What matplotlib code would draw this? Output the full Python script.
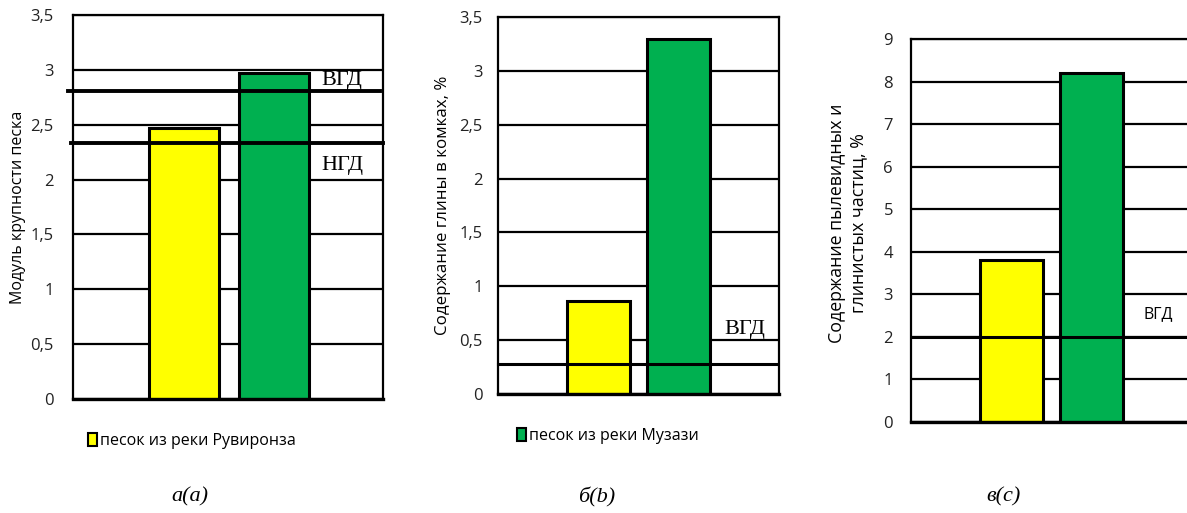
import matplotlib
matplotlib.use("Agg")
import matplotlib.pyplot as plt
from matplotlib.patches import Patch
from matplotlib.ticker import FuncFormatter

plt.rcParams['font.family'] = ['Open Sans', 'DejaVu Sans']

# ---- data ----
series_names = ["песок из реки Рувиронза", "песок из реки Музази"]
colors = ["#FFFF00", "#00B050"]

a_values = [2.47, 2.97]
a_vgd = 2.81
a_ngd = 2.33

b_values = [0.86, 3.30]
b_vgd = 0.28

c_values = [3.8, 8.2]
c_vgd = 2.0

a_ticks = [0, 0.5, 1, 1.5, 2, 2.5, 3, 3.5]
b_ticks = [0, 0.5, 1, 1.5, 2, 2.5, 3, 3.5]
c_ticks = [0, 1, 2, 3, 4, 5, 6, 7, 8, 9]

a_ylabel = "Модуль крупности песка"
b_ylabel = "Содержание глины в комках, %"
c_ylabel = "Содержание пылевидных и\nглинистых частиц, %"
captions = ["а(a)", "б(b)", "в(c)"]

W, H = 1187, 513
fig = plt.figure(figsize=(W / 100, H / 100), dpi=100)


def px_axes(x0, y0, x1, y1):
    return fig.add_axes([x0 / W, 1 - y1 / H, (x1 - x0) / W, (y1 - y0) / H])


comma = FuncFormatter(lambda v, p: ("%g" % v).replace(".", ","))


def style(ax, ticks, ylabel, xlim, pad, lsize):
    ax.set_ylim(ticks[0], ticks[-1])
    ax.set_yticks(ticks)
    ax.yaxis.set_major_formatter(comma)
    ax.set_xlim(*xlim)
    ax.set_xticks([])
    ax.tick_params(axis='y', length=0, pad=pad, labelsize=12, labelcolor='#222222')
    ax.yaxis.grid(True, color='black', linewidth=1.6, zorder=0)
    ax.set_axisbelow(True)
    for s in ax.spines.values():
        s.set_linewidth(1.6)
        s.set_color('black')
    ax.spines['bottom'].set_linewidth(2.4)
    ax.set_ylabel(ylabel, fontsize=lsize)


def bars(ax, vals, width):
    ax.bar(range(len(vals)), vals, width=width, color=colors,
           edgecolor='black', linewidth=2.2, zorder=2)


# ---- panel a ----
axa = px_axes(73, 15, 383, 399)
style(axa, a_ticks, a_ylabel, (-1.239, 2.221), 14, 11.5)
bars(axa, a_values, 0.78)
axa.plot([-1.29, 2.19], [a_vgd, a_vgd], color='black', lw=2.8, zorder=3, clip_on=False)
axa.plot([-1.26, 2.221], [a_ngd, a_ngd], color='black', lw=2.8, zorder=3, clip_on=False)
axa.text(1.53, 2.9, "ВГД", family=['Liberation Serif'], fontsize=16, va='center', ha='left')
axa.text(1.53, 2.13, "НГД", family=['Liberation Serif'], fontsize=16, va='center', ha='left')
axa.yaxis.set_label_coords(-0.152, 0.5)

# ---- panel b ----
axb = px_axes(498, 17, 779, 394)
style(axb, b_ticks, b_ylabel, (-1.253, 2.247), 11, 12.2)
bars(axb, b_values, 0.786)
axb.plot([-1.253, 2.21], [b_vgd, b_vgd], color='black', lw=2.2, zorder=3, clip_on=False)
axb.text(1.57, 0.6, "ВГД", family=['Liberation Serif'], fontsize=16, va='center', ha='left')
axb.yaxis.set_label_coords(-0.167, 0.5)

# ---- panel c ----
axc = px_axes(911, 39, 1200, 422)
style(axc, c_ticks, c_ylabel, (-1.256, 2.35), 13, 12.8)
bars(axc, c_values, 0.79)
axc.axhline(c_vgd, color='black', lw=2.2, zorder=3)
axc.text(1.64, 2.53, "ВГД", fontsize=11.5, va='center', ha='left')
axc.spines['right'].set_visible(False)
axc.yaxis.set_label_coords(-0.152, 0.52)

# ---- legends ----
for i, (x, y) in enumerate([(88, 441), (517, 436)]):
    fig.legend(handles=[Patch(facecolor=colors[i], edgecolor='black', linewidth=1.5)],
               labels=[series_names[i]], loc='center left',
               bbox_to_anchor=(x / W, 1 - y / H), frameon=False,
               handlelength=0.55, handleheight=0.8, handletextpad=0.2,
               fontsize=11.5, borderpad=0, borderaxespad=0)

# ---- captions ----
for txt, x in zip(captions, [190, 597, 1003]):
    fig.text(x / W, 1 - 497 / H, txt, family=['Liberation Serif'], style='italic',
             fontsize=16, ha='center', va='center')

fig.savefig("out.png", dpi=100)
